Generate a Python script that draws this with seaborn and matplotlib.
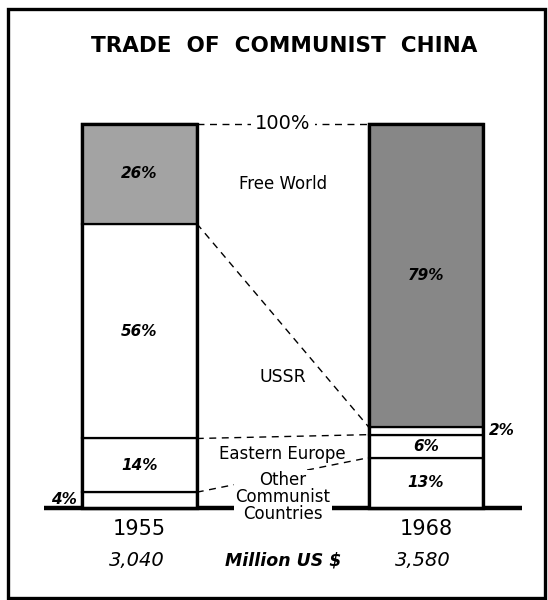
import pandas as pd
import matplotlib.pyplot as plt
import seaborn as sns
from matplotlib.patches import Rectangle

# chart values (percent of total trade)
years = ["1955", "1968"]
totals = ["3,040", "3,580"]
segments = ["Other\nCommunist\nCountries", "Eastern Europe", "USSR", "Free World"]
share_1955 = [4, 14, 56, 26]
share_1968 = [13, 6, 2, 79]

rows = []
for seg, a, b in zip(segments, share_1955, share_1968):
    rows.append({"year": "1955", "segment": seg, "share": a})
    rows.append({"year": "1968", "segment": seg, "share": b})
df = pd.DataFrame(rows)
df["base"] = df.groupby("year")["share"].cumsum() - df["share"]

fill = {("1955", "Free World"): "#a3a3a3", ("1968", "Free World"): "#878787"}

sns.set_style("white")
plt.rcParams["font.family"] = ["DejaVu Sans"]
plt.rcParams["text.color"] = "black"

fig = plt.figure(figsize=(5.48, 6.0), dpi=100)
ax = fig.add_axes([0, 0, 1, 1])

# baseline
ax.plot([-0.333, 1.335], [0, 0], color="black", lw=3.2, solid_capstyle="butt", zorder=1)

bar_w = 0.40
for _, r in df.iterrows():
    sns.barplot(data=df[(df.year == r.year) & (df.segment == r.segment)],
                x="year", y="share", order=years, bottom=r.base,
                color=fill.get((r.year, r.segment), "white"), saturation=1,
                width=bar_w, edgecolor="black", linewidth=1.6, ax=ax, zorder=2)
# outer outline of each bar thicker
for i, y in enumerate(years):
    ax.add_patch(Rectangle((i - bar_w / 2, 0), bar_w, 100, fill=False,
                           edgecolor="black", lw=2.4, zorder=3))

ax.set_xlim(-0.487, 1.426)
ax.set_ylim(-24.1, 132.3)
ax.axis("off")

# percent labels
for _, r in df.iterrows():
    i = years.index(r.year)
    mid = r.base + r.share / 2
    txt = f"{r.share}%"
    if r.share < 5:
        if i == 0:
            ax.text(i - bar_w / 2 - 0.02, mid, txt, ha="right", va="center",
                    fontsize=11, fontweight="bold", style="italic")
        else:
            ax.text(i + bar_w / 2 + 0.02, mid, txt, ha="left", va="center",
                    fontsize=11, fontweight="bold", style="italic")
    else:
        ax.text(i, mid, txt, ha="center", va="center", fontsize=11,
                fontweight="bold", style="italic", zorder=4)

# dashed connectors between matching segments
left = df[df.year == "1955"].set_index("segment")
right = df[df.year == "1968"].set_index("segment")
dash = dict(color="black", lw=1.0, ls=(0, (5, 4)), zorder=1)
ax.plot([bar_w / 2, 1 - bar_w / 2], [100, 100], **dash)
for seg in segments[:3]:
    ax.plot([bar_w / 2, 1 - bar_w / 2],
            [left.loc[seg, "base"] + left.loc[seg, "share"],
             right.loc[seg, "base"] + right.loc[seg, "share"]], **dash)

ax.text(0.5, 100, "100%", ha="center", va="center", fontsize=14,
        bbox=dict(facecolor="white", edgecolor="none", pad=3), zorder=5)

# segment names in the middle
ax.text(0.5, 84.4, "Free World", ha="center", va="center", fontsize=12)
ax.text(0.5, 34, "USSR", ha="center", va="center", fontsize=12.5)
ax.text(0.5, 14, "Eastern Europe", ha="center", va="center", fontsize=12)
ax.text(0.5, 2.7, segments[0], ha="center", va="center", fontsize=12,
        linespacing=0.95, zorder=5,
        bbox=dict(facecolor="white", edgecolor="none", pad=1))

# years and totals
for i, (y, t) in enumerate(zip(years, totals)):
    ax.text(i, -5.6, y, ha="center", va="center", fontsize=15)
    ax.text(i - 0.01, -13.7, t, ha="center", va="center", fontsize=14, style="italic")
ax.text(0.5, -13.7, "Million US $", ha="center", va="center", fontsize=12.5,
        fontweight="bold", style="italic")

fig.text(0.518, 1 - 46 / 600, "TRADE  OF  COMMUNIST  CHINA", ha="center",
         va="center", fontsize=15.5, fontweight="bold")

# frame around the whole chart
fig.add_artist(Rectangle((8 / 548, 2 / 600), 537 / 548, 589 / 600,
                         transform=fig.transFigure, fill=False,
                         edgecolor="black", lw=2.4))

fig.savefig("out.png", dpi=100)
